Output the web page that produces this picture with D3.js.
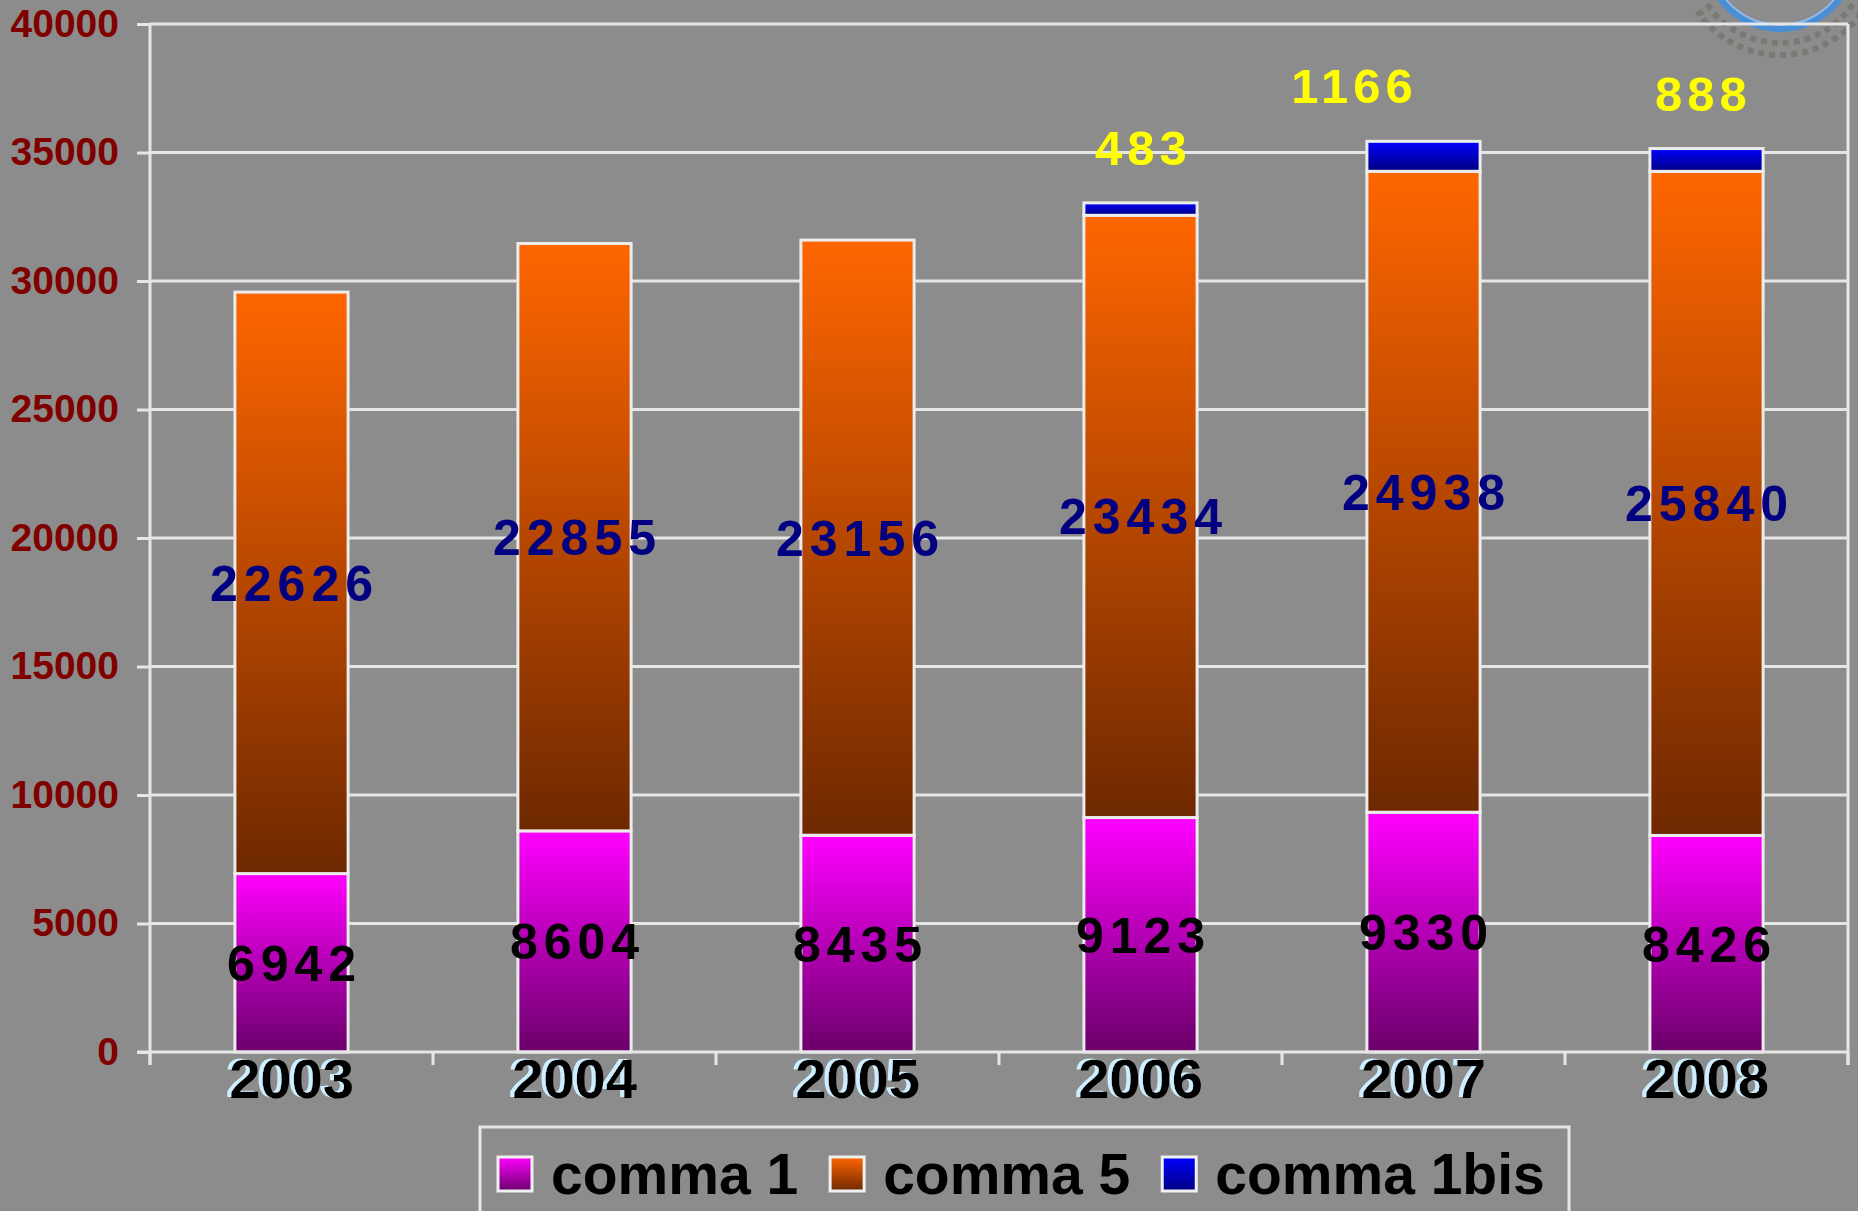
<!DOCTYPE html>
<html>
<head>
<meta charset="utf-8">
<script src="https://cdn.jsdelivr.net/npm/d3@7"></script>
<style>
    body { margin: 0; background: #8c8c8c; }
    svg { display: block; font-family: "Liberation Sans", Arial, sans-serif; }
</style>
</head>
<body>
<svg id="view" width="1858" height="1211"></svg>
<script>
// DATA
var YEARS = ["2003", "2004", "2005", "2006", "2007", "2008"];
var COMMA_1 = [6942, 8604, 8435, 9123, 9330, 8426];
var COMMA_5 = [22626, 22855, 23156, 23434, 24938, 25840];
var COMMA_1BIS = [0, 0, 0, 483, 1166, 888];
var SERIES = ["comma 1", "comma 5", "comma 1bis"];
var Y_TICKS = [0, 5000, 10000, 15000, 20000, 25000, 30000, 35000, 40000];

// CONSTANTS
var GRADIENTS = [
    ["#ff00ff", "#6a006a"],
    ["#ff6600", "#6e2800"],
    ["#0000ff", "#000080"],
];
var LINE = "#e6e6e6";
var LEFT = 150, RIGHT = 1848, TOP = 24, BOTTOM = 1052;
var TICK = 13;


function main() {
    var svg = d3.select("#view");
    svg.append("rect")
        .attr("width", 1858)
        .attr("height", 1211)
        .attr("fill", "#8c8c8c");

    var defs = svg.append("defs");
    GRADIENTS.forEach(function(g, i) {
        var lg = defs.append("linearGradient")
            .attr("id", "grad" + i)
            .attr("x1", 0).attr("y1", 0)
            .attr("x2", 0).attr("y2", 1);
        lg.append("stop").attr("offset", "0%").attr("stop-color", g[0]);
        lg.append("stop").attr("offset", "100%").attr("stop-color", g[1]);
    });
    // light blue offset copy behind the year labels
    var shadow = defs.append("filter")
        .attr("id", "shadow")
        .attr("x", "-10%").attr("y", "-10%")
        .attr("width", "120%").attr("height", "120%");
    shadow.append("feOffset").attr("in", "SourceAlpha").attr("dx", -4).attr("dy", -1).attr("result", "off");
    shadow.append("feFlood").attr("flood-color", "#cdeeff").attr("result", "col");
    shadow.append("feComposite").attr("in", "col").attr("in2", "off").attr("operator", "in").attr("result", "sh");
    var merge = shadow.append("feMerge");
    merge.append("feMergeNode").attr("in", "sh");
    merge.append("feMergeNode").attr("in", "SourceGraphic");

    var rows = YEARS.map(function(year, i) {
        return {year: year, c1: COMMA_1[i], c5: COMMA_5[i], bis: COMMA_1BIS[i]};
    });
    var stack = d3.stack().keys(["c1", "c5", "bis"])(rows);

    var x = d3.scaleBand()
        .domain(YEARS)
        .range([LEFT, RIGHT])
        .paddingInner(0.6)
        .paddingOuter(0.3);
    var y = d3.scaleLinear()
        .domain([0, 40000])
        .range([BOTTOM, TOP]);

    // logo fragment top right
    var logo = svg.append("g").attr("transform", "translate(1780,-45)");
    logo.append("path")
        .attr("d", d3.arc()({innerRadius: 70, outerRadius: 77, startAngle: Math.PI * 0.6, endAngle: Math.PI * 1.4}))
        .attr("fill", "#4a8fd6");
    logo.append("path")
        .attr("d", d3.arc()({innerRadius: 69, outerRadius: 71, startAngle: Math.PI * 0.6, endAngle: Math.PI * 1.4}))
        .attr("fill", "#8fb8e6");
    logo.append("path")
        .attr("d", d3.arc()({innerRadius: 88, outerRadius: 100, startAngle: Math.PI * 0.7, endAngle: Math.PI * 1.3}))
        .attr("fill", "none")
        .attr("stroke", "#74746c")
        .attr("stroke-width", 6)
        .attr("stroke-dasharray", "6 5")
        .attr("opacity", 0.75);

    // grid
    var grid = svg.append("g");
    grid.selectAll("line")
        .data(Y_TICKS.slice(1))
        .join("line")
        .attr("x1", LEFT)
        .attr("x2", RIGHT)
        .attr("y1", function(d) { return y(d); })
        .attr("y2", function(d) { return y(d); })
        .attr("stroke", LINE)
        .attr("stroke-width", 3);
    grid.append("line")
        .attr("x1", RIGHT).attr("x2", RIGHT)
        .attr("y1", TOP).attr("y2", BOTTOM + TICK)
        .attr("stroke", LINE)
        .attr("stroke-width", 3);

    // y axis
    var yAxis = svg.append("g")
        .attr("transform", "translate(" + LEFT + ",0)")
        .call(d3.axisLeft(y).tickValues(Y_TICKS).tickSize(TICK).tickPadding(18).tickFormat(d3.format("d")));
    yAxis.select(".domain").remove();
    yAxis.selectAll(".tick line").attr("stroke", LINE).attr("stroke-width", 3);
    yAxis.selectAll(".tick text")
        .attr("fill", "#800000")
        .attr("font-size", 39)
        .attr("font-weight", "bold")
        .attr("font-family", "'Liberation Sans', Arial, sans-serif");
    svg.append("line")
        .attr("x1", LEFT).attr("x2", LEFT)
        .attr("y1", TOP).attr("y2", BOTTOM + TICK)
        .attr("stroke", LINE)
        .attr("stroke-width", 3);

    // bars
    var bars = svg.append("g");
    stack.forEach(function(layer, i) {
        bars.append("g")
            .selectAll("rect")
            .data(layer.filter(function(d) { return d[1] > d[0]; }))
            .join("rect")
            .attr("x", function(d) { return x(d.data.year); })
            .attr("width", x.bandwidth())
            .attr("y", function(d) { return y(d[1]); })
            .attr("height", function(d) { return y(d[0]) - y(d[1]); })
            .attr("fill", "url(#grad" + i + ")")
            .attr("stroke", "#ececec")
            .attr("stroke-width", 3);
    });

    // x axis
    svg.append("line")
        .attr("x1", LEFT - TICK).attr("x2", RIGHT)
        .attr("y1", BOTTOM).attr("y2", BOTTOM)
        .attr("stroke", LINE)
        .attr("stroke-width", 3);
    var step = x.step();
    svg.append("g")
        .selectAll("line")
        .data(d3.range(YEARS.length + 1))
        .join("line")
        .attr("x1", function(d) { return LEFT + d * step; })
        .attr("x2", function(d) { return LEFT + d * step; })
        .attr("y1", BOTTOM)
        .attr("y2", BOTTOM + TICK)
        .attr("stroke", LINE)
        .attr("stroke-width", 3);

    svg.append("g")
        .selectAll("text")
        .data(YEARS)
        .join("text")
        .attr("x", function(d) { return x(d) + x.bandwidth() / 2; })
        .attr("y", 1098)
        .attr("text-anchor", "middle")
        .attr("font-size", 56)
        .attr("font-weight", "bold")
        .attr("fill", "black")
        .attr("filter", "url(#shadow)")
        .text(function(d) { return d; });

    // value labels
    var labels = svg.append("g");
    var spacing = 6;
    stack[0].forEach(function(d) {
        labels.append("text")
            .attr("x", x(d.data.year) + x.bandwidth() / 2 + spacing / 2)
            .attr("y", y((d[0] + d[1]) / 2) + 18)
            .attr("text-anchor", "middle")
            .attr("font-size", 50)
            .attr("font-weight", "bold")
            .attr("letter-spacing", spacing)
            .attr("fill", "black")
            .text(d.data.c1);
    });
    stack[1].forEach(function(d) {
        labels.append("text")
            .attr("x", x(d.data.year) + x.bandwidth() / 2 + spacing / 2)
            .attr("y", y((d[0] + d[1]) / 2) + 18)
            .attr("text-anchor", "middle")
            .attr("font-size", 50)
            .attr("font-weight", "bold")
            .attr("letter-spacing", spacing)
            .attr("fill", "#000080")
            .text(d.data.c5);
    });
    var bisShift = {"2007": -72, "2008": -6};
    stack[2].forEach(function(d) {
        if (d.data.bis === 0) return;
        labels.append("text")
            .attr("x", x(d.data.year) + x.bandwidth() / 2 + spacing / 2 + (bisShift[d.data.year] || 0))
            .attr("y", y(d[1]) - 55 + 17)
            .attr("text-anchor", "middle")
            .attr("font-size", 49)
            .attr("font-weight", "bold")
            .attr("letter-spacing", 5)
            .attr("fill", "#ffff00")
            .text(d.data.bis);
    });

    // legend
    var legend = svg.append("g");
    legend.append("rect")
        .attr("x", 480)
        .attr("y", 1127)
        .attr("width", 1089)
        .attr("height", 130)
        .attr("fill", "none")
        .attr("stroke", LINE)
        .attr("stroke-width", 3);
    var lx = 498;
    SERIES.forEach(function(name, i) {
        legend.append("rect")
            .attr("x", lx)
            .attr("y", 1157)
            .attr("width", 34)
            .attr("height", 34)
            .attr("fill", "url(#grad" + i + ")")
            .attr("stroke", "#f0f0f0")
            .attr("stroke-width", 3);
        var t = legend.append("text")
            .attr("x", lx + 53)
            .attr("y", 1194)
            .attr("font-size", 57)
            .attr("font-weight", "bold")
            .attr("fill", "black")
            .text(name);
        lx += 53 + t.node().getComputedTextLength() + 32;
    });
}

main();
</script>
</body>
</html>
